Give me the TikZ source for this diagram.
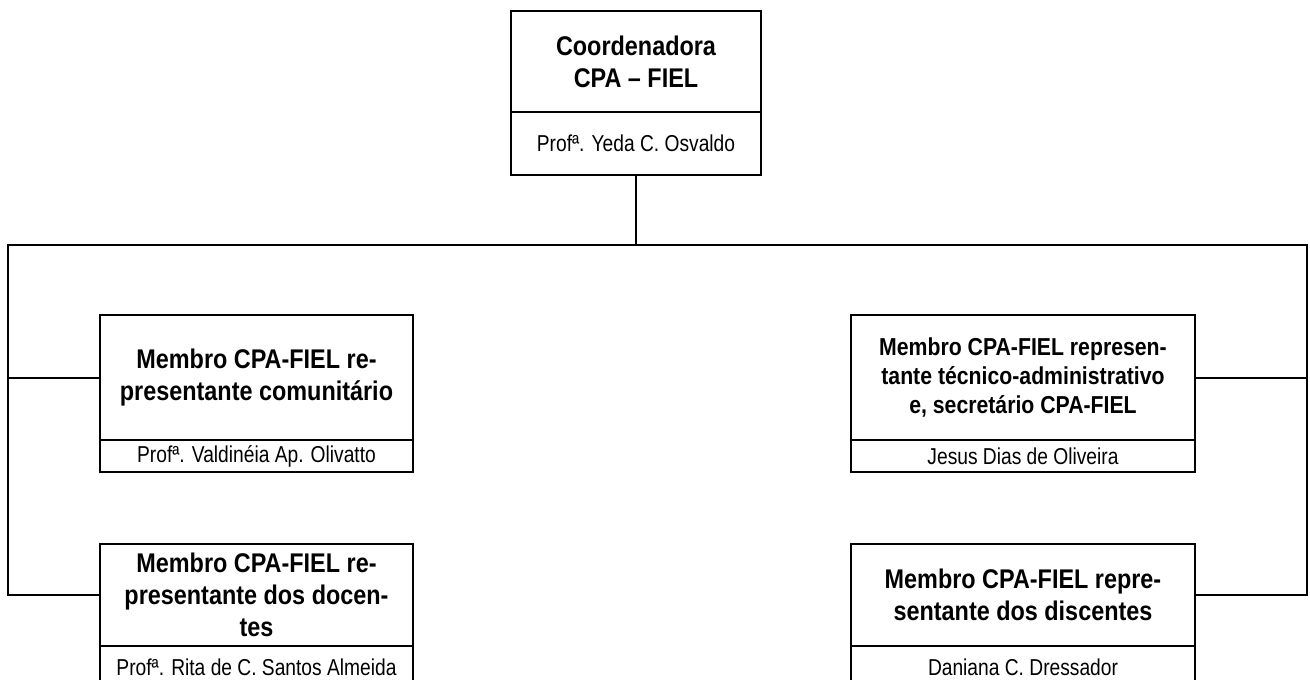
\documentclass[tikz,border=0pt]{standalone}
\usepackage{fontspec}
\setmainfont{Liberation Sans}
\newfontfamily\titlefont{Liberation Sans}[FakeStretch=0.867,Ligatures=TeX]
\newfontfamily\namefont{Liberation Sans}[FakeStretch=0.835,Ligatures=TeX]
\begin{document}
\begin{tikzpicture}[x=1pt,y=-1pt,
  box/.style={draw, line width=2pt, inner sep=0pt, outer sep=0pt, align=center, anchor=center},
  ttl/.style={box, font=\titlefont\bfseries\fontsize{27}{32}\selectfont},
  ttlsmall/.style={box, font=\titlefont\bfseries\fontsize{24.5}{29}\selectfont},
  nm/.style={box, font=\namefont\fontsize{23}{27}\selectfont},
  conn/.style={line width=2pt}]
\useasboundingbox (0,0) rectangle (1310,680);
% top box
\node[ttl, minimum width=250pt, minimum height=101pt] (top) at (636,61.5) {Coordenadora\\CPA – FIEL};
\node[nm, minimum width=250pt, minimum height=63pt] (topn) at (636,143.5) {Prof\textordfeminine. Yeda C. Osvaldo};
% left boxes
\node[ttl, minimum width=313pt, minimum height=125pt] (L1) at (256.5,377.5) {Membro CPA-FIEL re-\\presentante comunitário};
\node[nm, minimum width=313pt, minimum height=32pt] (L1n) at (256.5,456) {Prof\textordfeminine. Valdinéia Ap. Olivatto};
\node[ttl, minimum width=313pt, minimum height=102pt] (L2) at (256.5,595) {Membro CPA-FIEL re-\\presentante dos docen-\\tes};
\node[nm, minimum width=313pt, minimum height=42pt] (L2n) at (256.5,667) {Prof\textordfeminine. Rita de C. Santos Almeida};
% right boxes
\node[ttlsmall, minimum width=344pt, minimum height=125pt] (R1) at (1023,377.5) {Membro CPA-FIEL represen-\\tante técnico-administrativo\\e, secretário CPA-FIEL};
\node[nm, minimum width=344pt, minimum height=32pt] (R1n) at (1023,456) {Jesus Dias de Oliveira};
\node[ttl, minimum width=344pt, minimum height=102pt] (R2) at (1023,595) {Membro CPA-FIEL repre-\\sentante dos discentes};
\node[nm, minimum width=344pt, minimum height=42pt] (R2n) at (1023,667) {Daniana C. Dressador};
% connectors
\coordinate (busL) at (8,245);
\coordinate (busR) at (1307,245);
\draw[conn] (topn.south) -- (topn.south |- busL);
\draw[conn] (L2.west) -| (busL) -- (busR) |- (R2.east);
\draw[conn] (L1.west) -- (L1.west -| busL);
\draw[conn] (R1.east) -- (R1.east -| busR);
\end{tikzpicture}
\end{document}
